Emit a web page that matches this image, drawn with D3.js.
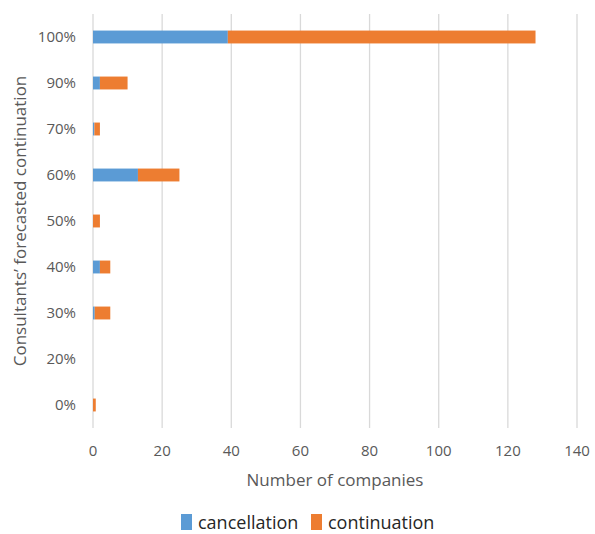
<!DOCTYPE html>
<html>
<head>
<meta charset="utf-8">
<script src="https://cdn.jsdelivr.net/npm/d3@7"></script>
<style>
  body { margin: 0; background: #fff; }
  svg text { font-family: "Open Sans", sans-serif; fill: #595959; }
</style>
</head>
<body>
<div id="chart"></div>
<script>
// forecast buckets, top to bottom
const categories = ['100%', '90%', '70%', '60%', '50%', '40%', '30%', '20%', '0%'];
const cancellation = [39, 2, 0.4, 13, 0, 2, 0.5, 0, 0];
const continuation = [89, 8, 1.6, 12, 2, 3, 4.5, 0, 0.8];
const xTicks = [0, 20, 40, 60, 80, 100, 120, 140];
const seriesNames = ['cancellation', 'continuation'];
const colors = ['#5B9BD5', '#ED7D31'];

const W = 595, H = 534;
const m = { top: 14, right: 18, bottom: 106, left: 93 };

const svg = d3.select('#chart').append('svg')
  .attr('width', W).attr('height', H);

const x = d3.scaleLinear().domain([0, 140]).range([m.left, W - m.right]);
const y = d3.scaleBand().domain(categories).range([m.top, H - m.bottom]).paddingInner(0.72).paddingOuter(0.36);

// gridlines
svg.append('g').selectAll('line').data(xTicks).join('line')
  .attr('x1', d => x(d)).attr('x2', d => x(d))
  .attr('y1', m.top).attr('y2', H - m.bottom)
  .attr('stroke', '#D9D9D9').attr('stroke-width', 1.3);

// stacked bars
const rows = categories.map((c, i) => ({ cat: c, cancellation: cancellation[i], continuation: continuation[i] }));
const stack = d3.stack().keys(seriesNames)(rows);
svg.append('g').selectAll('g').data(stack).join('g')
  .attr('fill', (d, i) => colors[i])
  .selectAll('rect').data(d => d).join('rect')
  .attr('x', d => x(d[0])).attr('width', d => x(d[1]) - x(d[0]))
  .attr('y', d => y(d.data.cat)).attr('height', y.bandwidth());

// y labels
svg.append('g').selectAll('text').data(categories).join('text')
  .attr('x', 76).attr('y', d => y(d) + y.bandwidth() / 2)
  .attr('dy', '0.35em').attr('text-anchor', 'end')
  .style('font-size', '15px').text(d => d);

// x labels
svg.append('g').selectAll('text').data(xTicks).join('text')
  .attr('x', d => x(d)).attr('y', 456)
  .attr('text-anchor', 'middle')
  .style('font-size', '15px').text(d => d);

svg.append('text').attr('x', (m.left + W - m.right) / 2).attr('y', 486)
  .attr('text-anchor', 'middle').style('font-size', '17px')
  .text('Number of companies');

svg.append('text')
  .attr('transform', `translate(26,${(m.top + H - m.bottom) / 2}) rotate(-90)`)
  .attr('text-anchor', 'middle').style('font-size', '17px')
  .text('Consultants’ forecasted continuation');

// legend
const leg = svg.append('g').attr('transform', 'translate(181,529)');
const li = leg.selectAll('g').data(seriesNames).join('g')
  .attr('transform', (d, i) => `translate(${i * 130},0)`);
li.append('rect').attr('x', 0).attr('y', -15).attr('width', 11).attr('height', 16)
  .attr('fill', (d, i) => colors[i]);
li.append('text').attr('x', 17).attr('y', 0).style('font-size', '18px')
  .style('fill', '#262626').text(d => d);
</script>
</body>
</html>
